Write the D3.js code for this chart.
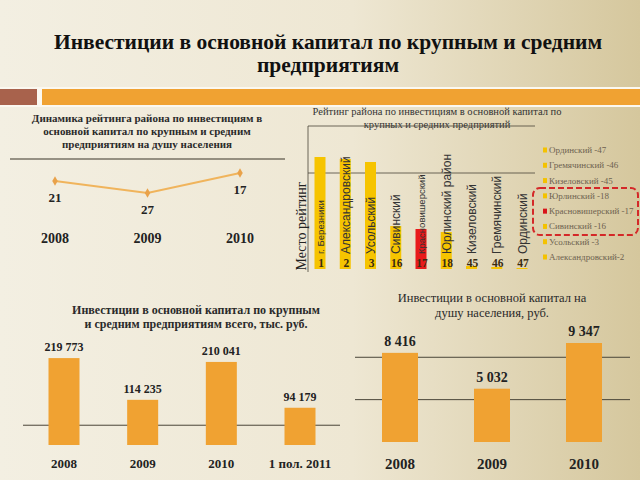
<!DOCTYPE html>
<html>
<head>
<meta charset="utf-8">
<script src="https://cdn.jsdelivr.net/npm/d3@7"></script>
<style>
  html, body { margin: 0; padding: 0; }
  svg { display: block; }
  text { font-family: 'Liberation Serif', 'Times New Roman', serif; }
  text.d-name { font-family: 'Liberation Sans', Arial, sans-serif; }
</style>
</head>
<body>
<div id="chart"></div>
<script>
const width = 640
const height = 480

// Динамика рейтинга
const rankYears = ['2008', '2009', '2010']
const rankValues = [21, 27, 17]

// Рейтинг района
const districts = ['г. Березники', 'Александровский', 'Усольский', 'Сивинский', 'Красновишерский',
  'Юрлинский район', 'Кизеловский', 'Гремячинский', 'Ординский']
const districtRanks = [1, 2, 3, 16, 17, 18, 45, 46, 47]
const districtBars = [112, 110, 107, 43, 40, 37, 3, 2, 1]
const legendLabels = ['Ординский -47', 'Гремячинский -46', 'Кизеловский -45', 'Юрлинский -18',
  'Красновишерский -17', 'Сивинский -16', 'Усольский -3', 'Александровский-2']

// Инвестиции всего, тыс. руб.
const totalYears = ['2008', '2009', '2010', '1 пол. 2011']
const totalValues = [219773, 114235, 210041, 94179]

// Инвестиции на душу населения, руб.
const perCapitaYears = ['2008', '2009', '2010']
const perCapitaValues = [8416, 5032, 9347]

const fmt = v => d3.format(',')(v).replace(/,/g, ' ')

const svg = d3.select('#chart').append('svg').attr('width', width).attr('height', height)

// фон
const defs = svg.append('defs')
const bg = defs.append('linearGradient').attr('id', 'bg').attr('x1', 0).attr('x2', 1).attr('y1', 0).attr('y2', 0)
bg.append('stop').attr('offset', '0%').attr('stop-color', '#f3efe2')
bg.append('stop').attr('offset', '55%').attr('stop-color', '#eee7d3')
bg.append('stop').attr('offset', '100%').attr('stop-color', '#d5c79d')
svg.append('rect').attr('width', width).attr('height', height).attr('fill', 'url(#bg)')

// заголовок
svg.append('text').attr('x', 328).attr('y', 49).attr('text-anchor', 'middle')
  .attr('font-size', 21.5).attr('font-weight', 'bold').attr('fill', '#111')
  .text('Инвестиции в основной капитал по крупным и средним')
svg.append('text').attr('x', 328).attr('y', 72).attr('text-anchor', 'middle')
  .attr('font-size', 21.5).attr('font-weight', 'bold').attr('fill', '#111')
  .text('предприятиям')

// полоса
svg.append('rect').attr('x', 0).attr('y', 87).attr('width', width).attr('height', 20).attr('fill', '#fbf8f0')
svg.append('rect').attr('x', 0).attr('y', 89).attr('width', 37).attr('height', 16).attr('fill', '#a8624c')
svg.append('rect').attr('x', 42).attr('y', 89).attr('width', 598).attr('height', 16).attr('fill', '#f0a232')

function multiline(lines, x, y0, dy, size, weight, color) {
  lines.forEach((t, i) => {
    svg.append('text').attr('x', x).attr('y', y0 + i * dy).attr('text-anchor', 'middle')
      .attr('font-size', size).attr('font-weight', weight).attr('fill', color).text(t)
  })
}

// ---- Динамика рейтинга (линия)
function drawRankLine() {
  multiline(['Динамика  рейтинга района по инвестициям в', 'основной капитал по крупным и средним',
    'предприятиям на душу населения'], 147, 122, 13, 11, 'bold', '#2a2a2a')

  svg.append('line').attr('x1', 10).attr('x2', 285).attr('y1', 159).attr('y2', 159)
    .attr('stroke', '#3a3528').attr('stroke-width', 1.2)

  const x = d3.scalePoint().domain(rankYears).range([55, 240])
  const y = d3.scaleLinear().domain([17, 27]).range([173, 193])
  const pts = rankYears.map((yr, i) => ({ yr, v: rankValues[i] }))

  svg.append('path').datum(pts)
    .attr('d', d3.line().x(d => x(d.yr)).y(d => y(d.v)))
    .attr('fill', 'none').attr('stroke', '#f0b45c').attr('stroke-width', 2)

  svg.selectAll('.rank-pt').data(pts).enter().append('path')
    .attr('class', 'rank-pt')
    .attr('d', d3.symbol(d3.symbolDiamond, 26))
    .attr('transform', d => `translate(${x(d.yr)},${y(d.v)})`)
    .attr('fill', '#e9a24a')

  svg.selectAll('.rank-lbl').data(pts).enter().append('text')
    .attr('class', 'rank-lbl')
    .attr('x', d => x(d.yr)).attr('y', d => y(d.v) + 21)
    .attr('text-anchor', 'middle').attr('font-size', 13).attr('font-weight', 'bold').attr('fill', '#222')
    .text(d => d.v)

  svg.selectAll('.rank-yr').data(rankYears).enter().append('text')
    .attr('class', 'rank-yr')
    .attr('x', d => x(d)).attr('y', 243)
    .attr('text-anchor', 'middle').attr('font-size', 14).attr('font-weight', 'bold').attr('fill', '#222')
    .text(d => d)
}

// ---- Рейтинг района (столбцы)
function drawDistricts() {
  multiline(['Рейтинг района по инвестициям в основной капитал по', 'крупных и средних предприятий'],
    437, 115, 13, 10.5, 'normal', '#333')

  const x = d3.scalePoint().domain(districts).range([320, 522])
  const y = d3.scaleLinear().domain([0, 143]).range([269, 126])
  const barW = 11

  ;[143, 96].forEach(v => {
    svg.append('line').attr('x1', 308).attr('x2', 535).attr('y1', y(v)).attr('y2', y(v))
      .attr('stroke', '#4a4538').attr('stroke-width', 0.8)
  })
  svg.append('line').attr('x1', 308).attr('x2', 308).attr('y1', y(143)).attr('y2', 272)
    .attr('stroke', '#4a4538').attr('stroke-width', 0.8)

  svg.append('text').attr('transform', 'translate(306,226) rotate(-90)').attr('text-anchor', 'middle')
    .attr('font-size', 14).attr('fill', '#222').text('Место рейтинг')

  const data = districts.map((name, i) => ({ name, rank: districtRanks[i], v: districtBars[i] }))

  svg.selectAll('.d-bar').data(data).enter().append('rect')
    .attr('class', 'd-bar')
    .attr('x', d => x(d.name) - barW / 2).attr('width', barW)
    .attr('y', d => y(d.v)).attr('height', d => y(0) - y(d.v))
    .attr('fill', d => (d.rank === 17 ? '#e81a1a' : '#f6c400'))

  const nameSize = d => (d.name === 'г. Березники' ? 9.5 : d.name === 'Красновишерский' ? 9.5 : 12)
  svg.selectAll('.d-name').data(data).enter().append('text')
    .attr('class', 'd-name')
    .attr('transform', d => `translate(${x(d.name) + nameSize(d) * 0.38},254) rotate(-90)`)
    .attr('font-size', nameSize).attr('fill', '#333')
    .text(d => d.name)

  svg.selectAll('.d-rank').data(data).enter().append('text')
    .attr('class', 'd-rank')
    .attr('x', d => x(d.name) + 1).attr('y', 267)
    .attr('text-anchor', 'middle').attr('font-size', 11.5).attr('font-weight', 'bold').attr('fill', '#3a2c10')
    .text(d => d.rank)

  // легенда
  const ly = d3.scalePoint().domain(legendLabels).range([150, 257])
  const lg = svg.selectAll('.lg').data(legendLabels).enter().append('g')
    .attr('transform', d => `translate(543,${ly(d)})`)
  lg.append('rect').attr('x', 0).attr('y', -2.5).attr('width', 4).attr('height', 5)
    .attr('fill', d => (d.startsWith('Красновишерский') ? '#d8141a' : '#f4c200'))
  lg.append('text').attr('x', 6).attr('y', 3).attr('font-size', 9).attr('fill', '#6e6250').text(d => d)

  svg.append('rect').attr('x', 533).attr('y', 188).attr('width', 105).attr('height', 47)
    .attr('rx', 7).attr('fill', 'none').attr('stroke', '#d42828').attr('stroke-width', 2)
    .attr('stroke-dasharray', '6,3')
}

// ---- столбики с подписями
function drawBars(opts) {
  const { years, values, range, bandW, base, scaleMax, top, grid, gridX, lblSize, yrSize, yrY } = opts
  const x = d3.scalePoint().domain(years).range(range)
  const y = d3.scaleLinear().domain([0, scaleMax]).range([base, top])

  grid.forEach(v => {
    svg.append('line').attr('x1', gridX[0]).attr('x2', gridX[1]).attr('y1', y(v)).attr('y2', y(v))
      .attr('stroke', '#4a4538').attr('stroke-width', 1)
  })

  const data = years.map((yr, i) => ({ yr, v: values[i] }))
  svg.selectAll(null).data(data).enter().append('rect')
    .attr('x', d => x(d.yr) - bandW / 2).attr('width', bandW)
    .attr('y', d => y(d.v)).attr('height', d => base - y(d.v))
    .attr('fill', '#f0a232')

  svg.selectAll(null).data(data).enter().append('text')
    .attr('x', d => x(d.yr)).attr('y', d => y(d.v) - 7)
    .attr('text-anchor', 'middle').attr('font-size', lblSize).attr('font-weight', 'bold').attr('fill', '#222')
    .text(d => fmt(d.v))

  svg.selectAll(null).data(years).enter().append('text')
    .attr('x', d => x(d)).attr('y', yrY)
    .attr('text-anchor', 'middle').attr('font-size', yrSize).attr('font-weight', 'bold').attr('fill', '#222')
    .text(d => d)
}

drawRankLine()
drawDistricts()

multiline(['Инвестиции в основной капитал по крупным', 'и средним предприятиям всего, тыс. руб.'],
  196, 314, 14, 12, 'bold', '#2a2a2a')
drawBars({
  years: totalYears, values: totalValues, range: [64, 300], bandW: 31, base: 445,
  scaleMax: 220000, top: 358, grid: [50000], gridX: [23, 340], lblSize: 12, yrSize: 13, yrY: 468
})

multiline(['Инвестиции в  основной капитал на', 'душу населения, руб.'], 492, 302, 15, 12.5, 'normal', '#2a2a2a')
drawBars({
  years: perCapitaYears, values: perCapitaValues, range: [400, 584], bandW: 36, base: 442,
  scaleMax: 9347, top: 343, grid: [4000, 8000], gridX: [355, 630], lblSize: 14, yrSize: 15, yrY: 469
})
</script>
</body>
</html>
